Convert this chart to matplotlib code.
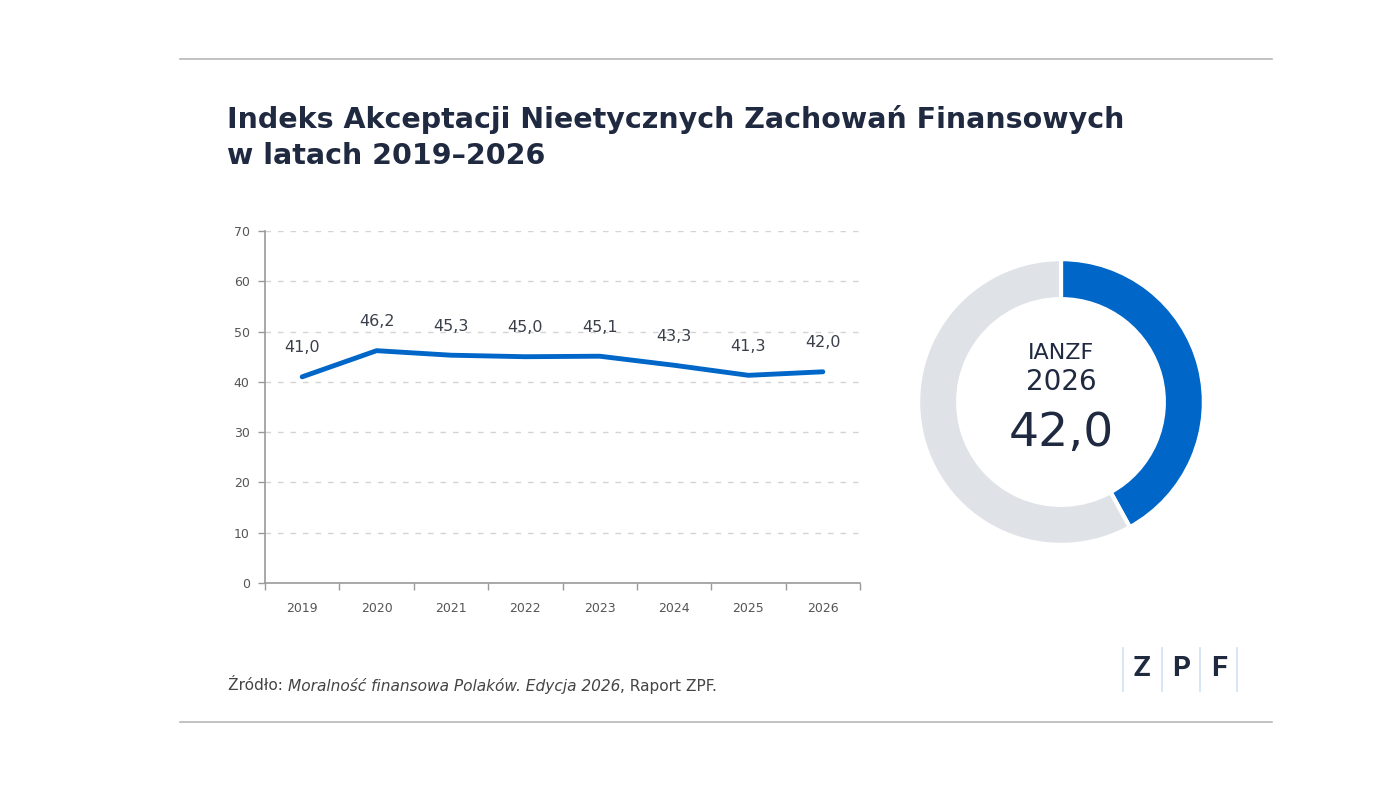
import matplotlib.pyplot as plt
from matplotlib.lines import Line2D

years = ["2019", "2020", "2021", "2022", "2023", "2024", "2025", "2026"]
index_values = [41.0, 46.2, 45.3, 45.0, 45.1, 43.3, 41.3, 42.0]
y_ticks = [0, 10, 20, 30, 40, 50, 60, 70]
donut_values = [42.0, 58.0]

title = "Indeks Akceptacji Nieetycznych Zachowań Finansowych\nw latach 2019–2026"
source_parts = [("Źródło: ", "normal"),
                ("Moralność finansowa Polaków. Edycja 2026", "italic"),
                (", Raport ZPF.", "normal")]

NAVY = "#1f2940"
BLUE = "#0066c8"
GREY = "#dfe2e7"

plt.rcParams['font.family'] = ['DejaVu Sans']

fig = plt.figure(figsize=(14, 7.87), dpi=100)
W, H = 1400, 787


def fx(px):
    return px / W


def fy(py):
    return 1 - py / H


# frame rules
fig.add_artist(Line2D([fx(180), fx(1272)], [fy(59), fy(59)], color="#b8b8b8", lw=1.2))
fig.add_artist(Line2D([fx(180), fx(1272)], [fy(722), fy(722)], color="#b8b8b8", lw=1.2))

fig.text(fx(227), fy(105), title, fontsize=20.5, fontweight="bold", color=NAVY,
         va="top", ha="left", linespacing=1.38)

# line chart
ax = fig.add_axes([fx(265), fy(583), fx(860) - fx(265), fy(231) - fy(583)])
x = list(range(len(years)))
ax.plot(x, index_values, color=BLUE, lw=3.5, solid_joinstyle="round", solid_capstyle="round")
for xi, v in zip(x, index_values):
    ax.annotate(f"{v:.1f}".replace(".", ","), (xi, v), xytext=(0, 21),
                textcoords="offset points", ha="center", va="center",
                fontsize=11.5, color="#3a3f4a")
ax.set_xlim(-0.5, len(years) - 0.5)
ax.set_ylim(0, 70)
ax.set_yticks(y_ticks)
ax.set_yticklabels([str(t) for t in y_ticks])
ax.set_xticks(x)
ax.set_xticklabels(years)
ax.set_xticks([i - 0.5 for i in range(len(years) + 1)], minor=True)
ax.tick_params(axis="x", which="major", length=0, pad=14, labelsize=9, labelcolor="#555")
ax.tick_params(axis="x", which="minor", length=5, width=1, color="#999", direction="out")
ax.tick_params(axis="y", length=5, width=1, color="#999", labelsize=9, labelcolor="#555", pad=6)
for yt in y_ticks[1:]:
    ax.axhline(yt, color="#d4d4d4", lw=1, ls=(0, (4, 5)), zorder=0)
for s in ["top", "right"]:
    ax.spines[s].set_visible(False)
for s in ["left", "bottom"]:
    ax.spines[s].set_color("#999")
    ax.spines[s].set_linewidth(1.2)

# donut
dax = fig.add_axes([fx(1061 - 150), fy(402 + 150), fx(300), 300 / H])
dax.pie(donut_values, colors=[BLUE, GREY], startangle=90, counterclock=False,
        radius=1, wedgeprops=dict(width=0.28, edgecolor="white", linewidth=3))
dax.set_xlim(-1.05, 1.05)
dax.set_ylim(-1.05, 1.05)
dax.set_aspect("equal")
dax.axis("off")
dax.text(0, 0.34, "IANZF", ha="center", va="center", fontsize=16, color=NAVY)
dax.text(0, 0.14, "2026", ha="center", va="center", fontsize=20, color=NAVY)
dax.text(0, -0.22, f"{donut_values[0]:.1f}".replace(".", ","), ha="center", va="center",
         fontsize=34, color=NAVY)

# source line with mixed styles
fig.canvas.draw()
renderer = fig.canvas.get_renderer()
cur = fx(228)
for txt, style in source_parts:
    t = fig.text(cur, fy(686), txt, fontsize=11.1, style=style, color="#444",
                 va="center", ha="left")
    bb = t.get_window_extent(renderer)
    cur += bb.width / W

# logo
for lx in [1123, 1162, 1200, 1237]:
    fig.add_artist(Line2D([fx(lx), fx(lx)], [fy(648), fy(691)], color="#cfe0f3", lw=1.2))
for lx, ch in zip([1142, 1181, 1219], ["Z", "P", "F"]):
    fig.text(fx(lx), fy(669), ch, family="Inter", fontsize=20, fontweight="bold",
             color=NAVY, ha="center", va="center")

fig.savefig("out.png", dpi=100)
